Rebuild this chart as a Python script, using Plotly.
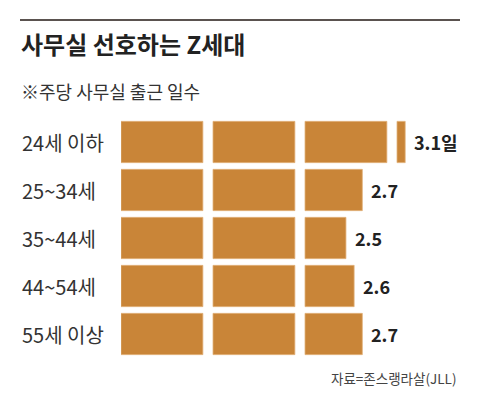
import plotly.graph_objects as go

categories = ["24세 이하", "25~34세", "35~44세", "44~54세", "55세 이상"]
values = [3.1, 2.7, 2.5, 2.6, 2.7]
value_labels = ["3.1일", "2.7", "2.5", "2.6", "2.7"]

title = "사무실 선호하는 Z세대"
subtitle = "※주당 사무실 출근 일수"
source = "자료=존스랭라살(JLL)"

BAR_COLOR = "#C98538"
GAP = 0.11
FONT = "Noto Sans CJK KR"

OFF = 8  # page body margin
W, H = 480 - OFF, 397 - OFF
ML, MR, MT, MB = 121 - OFF, 10, 118 - OFF, 39
PW = W - ML - MR
PH = H - MT - MB
UNIT_PX = 92
XMAX = PW / UNIT_PX


def px_x(px):
    return (px - OFF - ML) / PW


def px_y(py):
    return (H - MB - (py - OFF)) / PH


fig = go.Figure()
ypos = list(range(len(categories)))
nseg = int(max(values)) + 1
for k in range(nseg):
    lens = [min(1.0, v - k) * (1 - GAP) if v > k else None for v in values]
    fig.add_trace(go.Bar(
        y=ypos, x=lens, base=[k] * len(values), orientation="h",
        marker=dict(color=BAR_COLOR, line=dict(color="#E2B27C", width=0.8)),
        width=0.86, hoverinfo="skip", showlegend=False,
    ))

annotations = []
for i, (cat, v, lab) in enumerate(zip(categories, values, value_labels)):
    k = int(v)
    frac = v - k
    end = k + frac * (1 - GAP) if frac > 0 else k - GAP
    annotations.append(dict(
        x=px_x(20), xref="paper", y=i, yref="y", text=cat, showarrow=False,
        xanchor="left", yanchor="middle",
        font=dict(family=FONT, size=20, color="#333333"),
    ))
    annotations.append(dict(
        x=end, xref="x", y=i, yref="y", text=lab, showarrow=False,
        xanchor="left", yanchor="middle", xshift=7,
        font=dict(family=FONT, size=18, color="#222222", weight=700),
    ))

annotations.append(dict(
    x=px_x(19), xref="paper", y=px_y(43), yref="paper", text=title,
    showarrow=False, xanchor="left", yanchor="middle",
    font=dict(family=FONT, size=24, color="#222222", weight=700),
))
annotations.append(dict(
    x=px_x(19), xref="paper", y=px_y(91), yref="paper", text=subtitle,
    showarrow=False, xanchor="left", yanchor="middle",
    font=dict(family=FONT, size=18, color="#333333"),
))
annotations.append(dict(
    x=px_x(458), xref="paper", y=px_y(378), yref="paper", text=source,
    showarrow=False, xanchor="right", yanchor="middle",
    font=dict(family=FONT, size=13.5, color="#444444"),
))

fig.update_layout(
    width=W, height=H,
    margin=dict(l=ML, r=MR, t=MT, b=MB, autoexpand=False),
    paper_bgcolor="white", plot_bgcolor="white",
    barmode="overlay",
    xaxis=dict(range=[0, XMAX], visible=False, fixedrange=True),
    yaxis=dict(range=[len(categories) - 0.5, -0.5], visible=False, fixedrange=True),
    annotations=annotations,
    shapes=[dict(type="line", xref="paper", yref="paper",
                 x0=px_x(20), x1=px_x(460), y0=px_y(20), y1=px_y(20),
                 line=dict(color="#231815", width=1.6))],
    font=dict(family=FONT),
)

fig.write_html("out.html", config={"displayModeBar": False})
